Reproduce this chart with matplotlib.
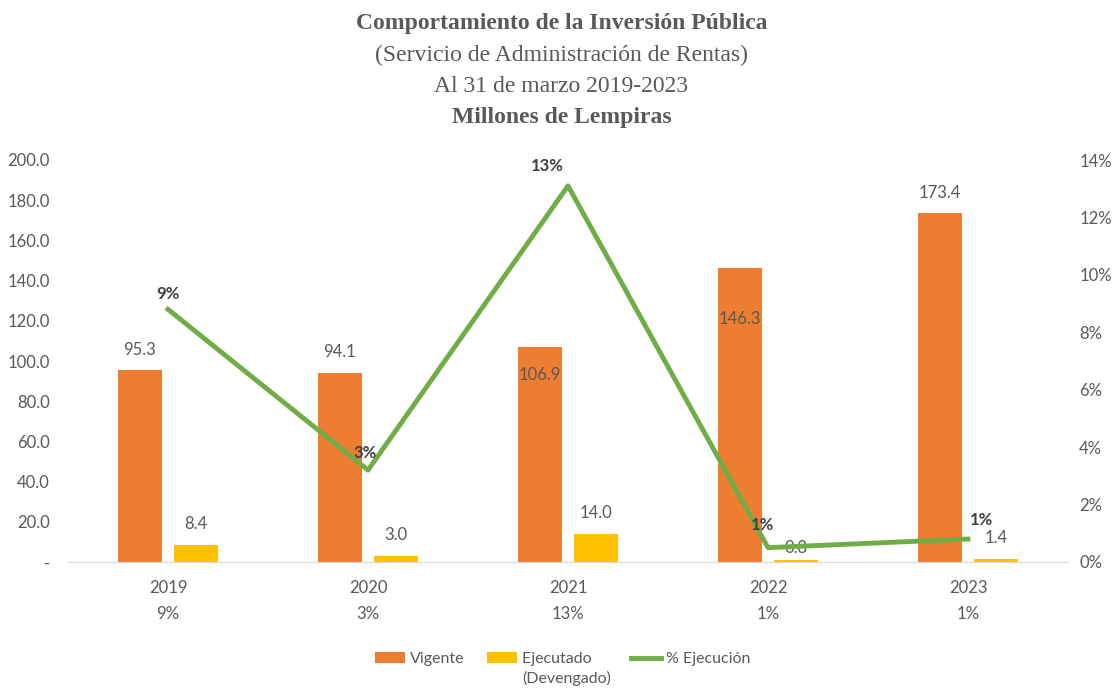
import matplotlib.pyplot as plt
import numpy as np
from matplotlib.ticker import FuncFormatter

anios = ["2019", "2020", "2021", "2022", "2023"]
pct_texto = ["9%", "3%", "13%", "1%", "1%"]
vigente = [95.3, 94.1, 106.9, 146.3, 173.4]
ejecutado = [8.4, 3.0, 14.0, 0.8, 1.4]
pct_ejecucion = [8.8, 3.2, 13.1, 0.5, 0.8]

naranja = "#ED7D31"
amarillo = "#FFC000"
verde = "#70AD47"
gris = "#595959"

plt.rcParams['font.family'] = ['Lato', 'DejaVu Sans']

fig = plt.figure(figsize=(11.12, 6.89), dpi=100)
ax = fig.add_axes([68 / 1112, 1 - 562 / 689, 1000 / 1112, 402 / 689])
ax2 = ax.twinx()

x = np.arange(len(anios))
w = 0.22
b1 = ax.bar(x - 0.14, vigente, w, color=naranja, label="Vigente", zorder=2)
b2 = ax.bar(x + 0.14, ejecutado, w, color=amarillo, label="Ejecutado", zorder=2)

ax.set_ylim(0, 200)
ax.set_xlim(-0.5, 4.5)
ax.set_yticks(np.arange(0, 201, 20))
ax.yaxis.set_major_formatter(FuncFormatter(lambda v, p: "-" if v == 0 else f"{v:.1f}"))
ax.set_xticks(x)
ax.set_xticklabels([f"{a}\n{p}" for a, p in zip(anios, pct_texto)], linespacing=1.75)

for s in ["top", "right", "left"]:
    ax.spines[s].set_visible(False)
    ax2.spines[s].set_visible(False)
ax.spines["bottom"].set_color("#D9D9D9")
ax2.spines["bottom"].set_visible(False)
ax.tick_params(length=0, colors=gris, labelsize=12)
ax.tick_params(axis="x", pad=13)
ax.tick_params(axis="y", pad=13)
ax2.tick_params(length=0, colors=gris, labelsize=12, pad=8)

# etiquetas de las barras
desp_vig = [15, 15, -20, -37, 15]
for i, v in enumerate(vigente):
    ax.annotate(f"{v:.1f}", (x[i] - 0.14, v), xytext=(0, desp_vig[i]), textcoords="offset points",
                ha="center", va="center", color=gris, fontsize=12)
desp_eje = [15, 15, 15, 9, 15]
for i, v in enumerate(ejecutado):
    ax.annotate(f"{v:.1f}", (x[i] + 0.14, v), xytext=(0, desp_eje[i]), textcoords="offset points",
                ha="center", va="center", color=gris, fontsize=12)

ln, = ax2.plot(x, pct_ejecucion, color=verde, lw=3.5, label="% Ejecución", zorder=3)
ax2.set_ylim(0, 14)
ax2.set_yticks(np.arange(0, 15, 2))
ax2.yaxis.set_major_formatter(FuncFormatter(lambda v, p: f"{v:.0f}%"))

desp_lin = [(0, 11), (-2, 12), (-15, 14), (-4, 16), (10, 14)]
for i, v in enumerate(pct_ejecucion):
    ax2.annotate(pct_texto[i], (x[i], v), xytext=desp_lin[i], textcoords="offset points",
                 ha="center", va="center", color="#404040", fontsize=12, fontweight="bold")

fig.text(0.505, 0.966, "Comportamiento de la Inversión Pública", ha="center", va="center",
         fontsize=17, fontweight="bold", color=gris, family="Liberation Serif")
fig.text(0.505, 0.920, "(Servicio de Administración de Rentas)", ha="center", va="center",
         fontsize=17, color=gris, family="Liberation Serif")
fig.text(0.505, 0.875, "Al 31 de marzo 2019-2023", ha="center", va="center",
         fontsize=17, color=gris, family="Liberation Serif")
fig.text(0.505, 0.829, "Millones de Lempiras", ha="center", va="center",
         fontsize=17, fontweight="bold", color=gris, family="Liberation Serif")

leg = fig.legend(handles=[b1, b2, ln], labels=["Vigente", "Ejecutado    ", "% Ejecución"],
                 loc="center", bbox_to_anchor=(0.506, 1 - 659 / 689), ncol=3,
                 frameon=False, fontsize=11.5, labelcolor=gris, handlelength=1.9, columnspacing=1.4,
                 handletextpad=0.3)
fig.canvas.draw()
t = leg.get_texts()[1]
bb = t.get_window_extent()
fig.text(bb.x0 / 1112, (bb.y0 - 12) / 689, "(Devengado)", ha="left", va="center",
         fontsize=11.5, color=gris)

fig.savefig("out.png", dpi=100)
